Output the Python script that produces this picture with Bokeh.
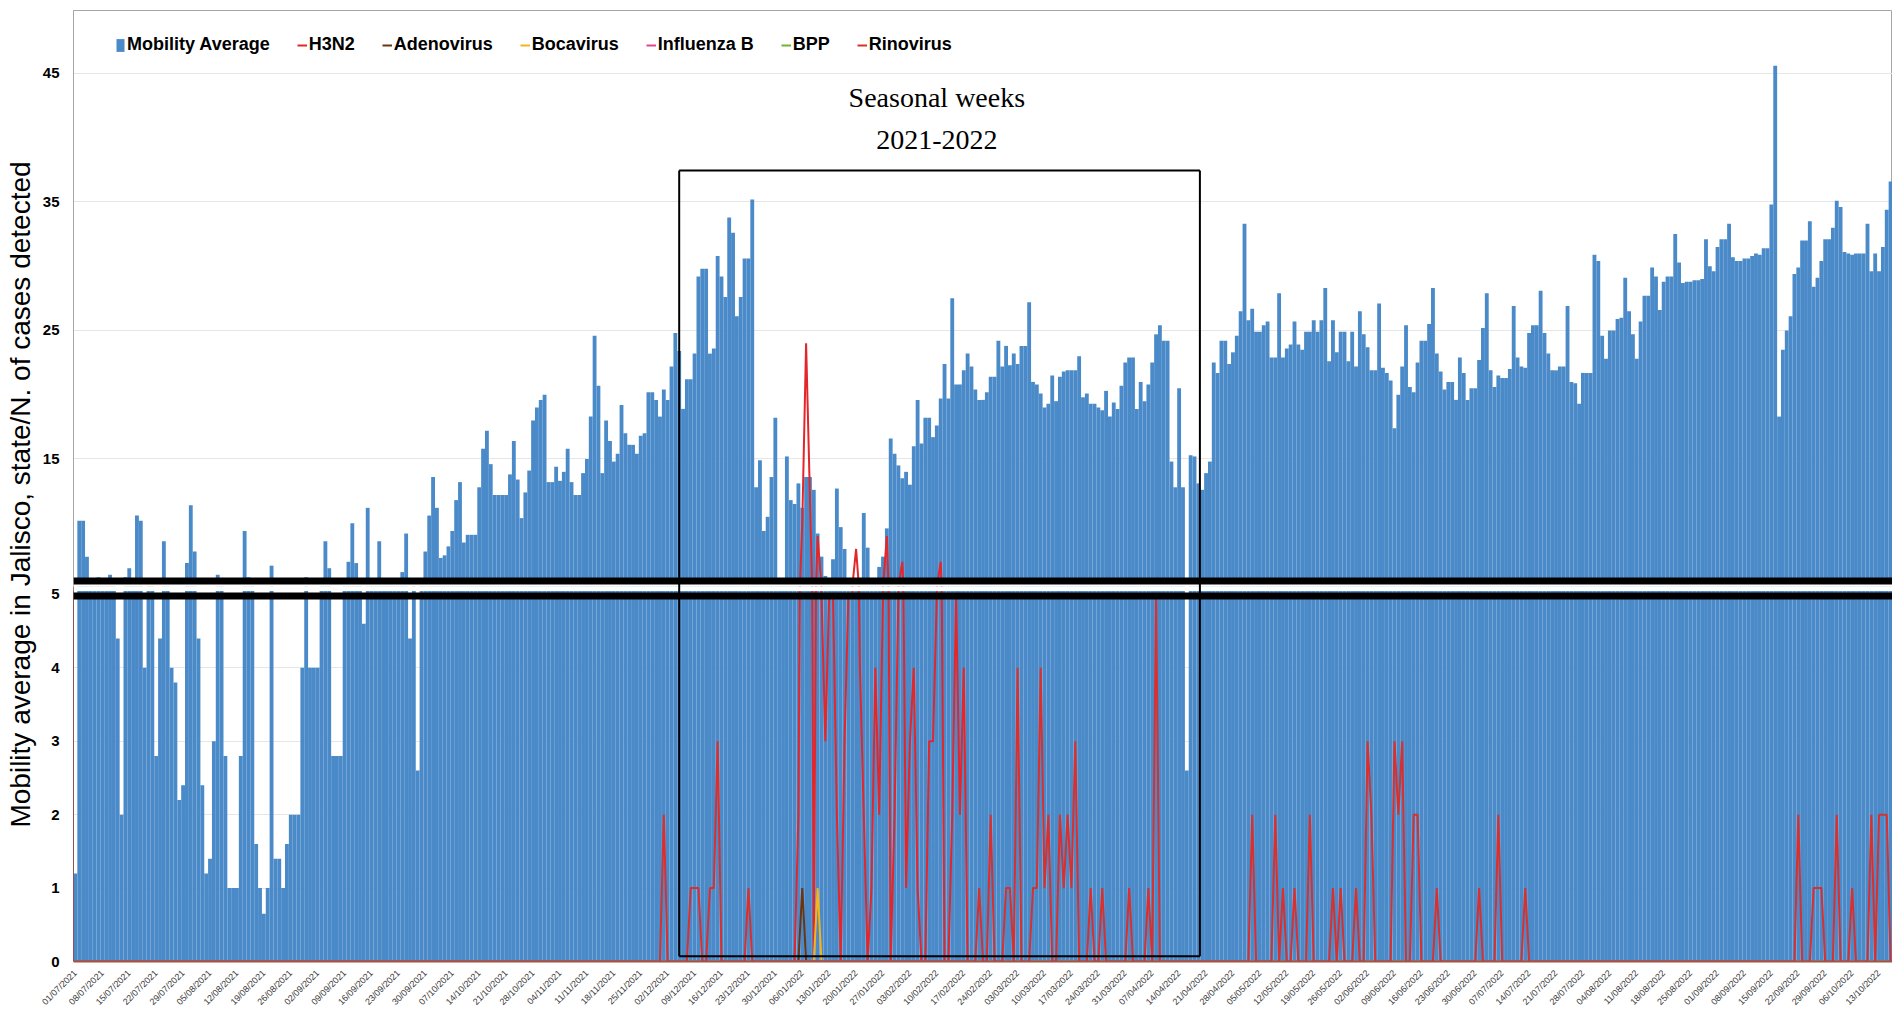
import math
from datetime import date, timedelta

from bokeh.plotting import figure
from bokeh.models import (ColumnDataSource, Range1d, FixedTicker, Span, BoxAnnotation,
                          Legend, LegendItem)
from bokeh.layouts import row, column
from bokeh.core.properties import value
from bokeh.embed import file_html
from bokeh.resources import INLINE

# ---------------- data ----------------
start_date = date(2021, 7, 1)

mobility_average = [
    1.2, 10.2, 10.2, 7.4, 5.2, 5.2, 5.8, 5.2, 5.2, 6.0,
    5.2, 4.4, 2.0, 5.8, 6.5, 5.2, 10.6, 10.2, 4.0, 5.2,
    5.2, 2.8, 4.4, 8.6, 5.2, 4.0, 3.8, 2.2, 2.4, 6.9,
    11.4, 7.8, 4.4, 2.4, 1.2, 1.4, 3.0, 6.0, 5.2, 2.8,
    1.0, 1.0, 1.0, 2.8, 9.4, 5.8, 5.2, 1.6, 1.0, 0.65,
    1.0, 6.7, 1.4, 1.4, 1.0, 1.6, 2.0, 2.0, 2.0, 4.0,
    5.8, 4.0, 4.0, 4.0, 5.2, 8.6, 6.5, 2.8, 2.8, 2.8,
    5.2, 7.0, 10.0, 6.9, 5.2, 4.6, 11.2, 5.2, 5.2, 8.6,
    5.2, 5.2, 5.2, 5.2, 5.2, 6.2, 9.2, 4.4, 5.2, 2.6,
    5.2, 7.8, 10.6, 13.6, 11.2, 7.3, 7.5, 8.2, 9.4, 11.8,
    13.2, 8.5, 9.1, 9.1, 9.1, 12.8, 15.8, 17.2, 14.6, 12.2,
    12.2, 12.2, 12.2, 13.8, 16.4, 13.4, 10.4, 12.4, 14.1, 18.0,
    19.0, 19.6, 20.0, 13.2, 13.2, 14.4, 13.3, 14.0, 15.8, 13.2,
    12.2, 12.2, 13.9, 15.0, 18.3, 24.6, 20.7, 13.9, 18.0, 16.4,
    14.8, 15.4, 19.2, 17.0, 16.1, 16.1, 15.4, 16.8, 17.0, 20.2,
    20.2, 19.6, 18.3, 20.4, 19.6, 22.2, 24.8, 23.4, 18.9, 21.2,
    21.2, 23.2, 29.2, 29.8, 29.8, 23.2, 23.6, 30.8, 29.2, 27.6,
    33.8, 32.6, 26.1, 27.6, 30.6, 30.6, 35.2, 12.8, 14.9, 9.4,
    10.5, 13.6, 18.2, 5.2, 5.2, 15.2, 11.8, 11.5, 13.1, 11.2,
    13.6, 13.6, 12.6, 9.2, 7.4, 5.9, 5.2, 7.2, 12.7, 9.7,
    8.0, 5.2, 5.2, 5.2, 5.2, 10.8, 8.1, 5.2, 5.2, 6.6,
    7.4, 9.6, 16.6, 15.4, 14.5, 13.5, 14.0, 13.0, 16.0, 19.6,
    16.2, 18.2, 18.2, 16.7, 17.6, 19.7, 22.4, 19.7, 27.5, 20.8,
    20.8, 21.9, 23.2, 22.2, 20.4, 19.6, 19.6, 20.2, 21.4, 21.4,
    24.2, 22.2, 23.8, 22.3, 23.2, 22.4, 23.8, 23.8, 27.2, 21.0,
    20.8, 20.1, 19.0, 19.3, 21.5, 19.5, 21.4, 21.8, 21.9, 21.9,
    21.9, 23.0, 19.8, 20.1, 19.3, 19.3, 19.0, 18.8, 20.3, 18.3,
    19.4, 18.9, 20.7, 22.5, 22.9, 22.9, 18.9, 21.0, 19.5, 20.8,
    22.5, 24.7, 25.4, 24.2, 24.2, 14.8, 12.8, 20.5, 12.8, 2.6,
    15.3, 15.2, 13.1, 12.6, 13.9, 14.8, 22.5, 21.7, 24.2, 24.2,
    22.4, 23.3, 24.6, 26.5, 33.3, 25.8, 26.7, 24.9, 24.9, 25.4,
    25.7, 22.9, 22.9, 27.9, 22.9, 23.6, 23.9, 25.7, 23.9, 23.5,
    24.9, 24.9, 25.8, 24.9, 25.8, 28.3, 22.6, 25.8, 23.3, 24.9,
    24.9, 22.6, 24.9, 22.2, 26.5, 24.7, 23.7, 21.9, 21.9, 27.1,
    22.1, 21.7, 21.1, 17.4, 20.0, 22.2, 25.4, 20.6, 20.2, 22.5,
    24.2, 24.2, 25.5, 28.3, 23.2, 21.8, 20.4, 21.0, 21.0, 19.6,
    22.9, 21.7, 19.6, 20.5, 20.5, 22.7, 25.2, 27.9, 21.9, 20.6,
    21.5, 21.3, 21.3, 22.0, 26.9, 22.9, 22.2, 22.1, 24.8, 25.4,
    25.4, 28.1, 24.8, 23.2, 21.9, 21.9, 22.2, 22.2, 26.9, 21.0,
    20.9, 19.3, 21.7, 21.7, 21.7, 30.9, 30.4, 24.6, 22.8, 25.0,
    25.0, 25.9, 26.0, 29.1, 26.5, 24.7, 22.8, 25.7, 27.7, 27.7,
    29.9, 29.2, 26.6, 28.8, 29.2, 29.2, 32.5, 30.3, 28.7, 28.8,
    28.8, 28.9, 28.9, 29.0, 32.1, 30.0, 29.6, 31.5, 32.1, 32.1,
    33.3, 30.7, 30.4, 30.4, 30.6, 30.6, 30.8, 31.0, 30.9, 31.4,
    31.4, 34.8, 45.6, 18.3, 23.5, 25.0, 26.1, 29.4, 29.9, 32.0,
    32.0, 33.5, 28.4, 29.1, 30.4, 32.1, 32.1, 33.0, 35.1, 34.6,
    31.1, 31.0, 30.9, 31.0, 31.0, 31.0, 33.3, 29.6, 31.0, 29.6,
    31.5, 34.4, 36.6,
]
n_days = len(mobility_average)
days = list(range(n_days))

# detected cases (day index -> number of cases; all other days are 0)
h3n2_days = [186, 187, 188, 189, 190, 191, 192, 193, 194, 195, 196, 197, 198, 199, 200,
             201, 202, 203, 204, 205, 206, 207, 208, 209, 210, 211, 212, 213, 214, 215,
             216, 217, 218, 219, 220, 221, 222, 223, 224, 225, 226, 227, 228, 229, 230,
             231, 232]
h3n2_cases = [0, 0, 2, 10, 24, 12, 0, 9, 5, 3, 5, 5, 2, 0, 3,
              5, 5, 8, 4, 2, 0, 1, 4, 2, 5, 9, 0, 2, 5, 7,
              1, 3, 4, 1, 0, 0, 3, 3, 5, 7, 0, 0, 2, 5, 2,
              4, 0]
rinovirus_days = [153, 160, 161, 162, 165, 166, 167, 175,
                  235, 238, 242, 243, 245, 249, 250, 251, 252, 253, 256, 257, 258, 259, 260,
                  264, 267, 274, 279, 281,
                  306, 312, 314, 317, 321, 327, 329, 333, 336, 337, 343, 344, 345, 348, 349,
                  354, 365, 370, 377, 448, 452, 453, 454, 458, 462, 467, 469, 470, 471]
rinovirus_cases = [2, 1, 1, 1, 1, 1, 3, 1,
                   1, 2, 1, 1, 4, 1, 1, 4, 1, 2, 2, 1, 2, 1, 3,
                   1, 1, 1, 1, 5,
                   2, 2, 1, 1, 2, 1, 1, 1, 3, 2, 3, 2, 3, 2, 2,
                   1, 1, 2, 1, 2, 1, 1, 1, 2, 1, 2, 2, 2, 2]
adenovirus_days = [189]
adenovirus_cases = [1]
bocavirus_days = [193]
bocavirus_cases = [1]
influenza_b_days = []
influenza_b_cases = []
bpp_days = []
bpp_cases = []

tick_days = list(range(0, n_days, 7))
tick_labels = [(start_date + timedelta(days=d)).strftime("%d/%m/%Y") for d in tick_days]
top_ticks = [15, 25, 35, 45]
bottom_ticks = [0, 1, 2, 3, 4, 5]

season_start_day = 157.0
season_end_day = 292.4


def daily(day_list, case_list):
    s = [0.0] * n_days
    for d, c in zip(day_list, case_list):
        if d < n_days:
            s[d] = c
    return s


series = [
    ("H3N2", daily(h3n2_days, h3n2_cases), "#e3262b"),
    ("Adenovirus", daily(adenovirus_days, adenovirus_cases), "#6b3412"),
    ("Bocavirus", daily(bocavirus_days, bocavirus_cases), "#f4b41a"),
    ("Influenza B", daily(influenza_b_days, influenza_b_cases), "#e0448e"),
    ("BPP", daily(bpp_days, bpp_cases), "#6db52f"),
    ("Rinovirus", daily(rinovirus_days, rinovirus_cases), "#d8302f"),
]

# ---------------- styling ----------------
BAR = "#4a8ac8"
FONT = "Liberation Sans"
TOP_BAR_BASE = 5.35

x_range = Range1d(-0.5, n_days - 0.5)

src = ColumnDataSource(dict(
    day=days,
    mob=mobility_average,
    mob_top=[v if v > TOP_BAR_BASE else float("nan") for v in mobility_average],
))


def style_y(p, ticks, color):
    p.yaxis.ticker = FixedTicker(ticks=ticks)
    p.yaxis.major_tick_line_color = None
    p.yaxis.minor_tick_line_color = None
    p.yaxis.axis_line_color = color
    p.yaxis.major_label_text_font = FONT
    p.yaxis.major_label_text_font_style = "bold"
    p.yaxis.major_label_text_font_size = "15px"
    p.yaxis.major_label_text_color = "black"
    p.yaxis.major_label_standoff = 8


# ---------------- top panel ----------------
top = figure(width=1853, height=586, x_range=x_range, y_range=Range1d(5.078, 49.9),
             output_backend="svg", toolbar_location=None, x_axis_location=None,
             min_border_left=28, min_border_right=0, min_border_top=10, min_border_bottom=0,
             outline_line_color="#a6a6a6", background_fill_color="white")
top.xgrid.visible = False
top.ygrid.ticker = FixedTicker(ticks=top_ticks)
top.ygrid.grid_line_color = "#e6e6e6"
style_y(top, top_ticks, "#a6a6a6")

bars_top = top.vbar(x="day", top="mob_top", bottom=TOP_BAR_BASE, width=1.0, source=src,
                    fill_color=BAR, line_color=None)
line_renderers = []
for name, vals, col in series:
    r = top.line(days, vals, line_color=col, line_width=2)
    line_renderers.append((name, r))

top.add_layout(BoxAnnotation(bottom=0, top=TOP_BAR_BASE - 0.02, fill_color="white",
                             fill_alpha=1.0, line_alpha=0))
top.add_layout(Span(location=5.51, dimension="width", line_color="black", line_width=7))

box_src_top = ColumnDataSource(dict(
    x0=[season_start_day, season_end_day, season_start_day],
    y0=[0, 0, 37.45],
    x1=[season_start_day, season_end_day, season_end_day],
    y1=[37.45, 37.45, 37.45],
))
top.segment(x0="x0", y0="y0", x1="x1", y1="y1", source=box_src_top, line_color="black",
            line_width=2, level="overlay")

top.text(x=[224, 224], y=[43.1, 39.8], text=["Seasonal weeks", "2021-2022"],
         text_font=value("Liberation Serif"), text_font_size="28px", text_color="black",
         text_align="center", text_baseline="middle")

items = [LegendItem(label="Mobility Average", renderers=[bars_top])]
items += [LegendItem(label=name, renderers=[r]) for name, r in line_renderers]
legend = Legend(items=items, location=(42, 531), orientation="horizontal",
                label_text_font=FONT, label_text_font_style="bold",
                label_text_font_size="18px", label_text_color="black",
                glyph_width=10, glyph_height=16, label_standoff=2, spacing=27,
                padding=0, margin=0, border_line_color=None, background_fill_alpha=0)
top.add_layout(legend)

# ---------------- bottom panel ----------------
bot = figure(width=1853, height=427, x_range=x_range, y_range=Range1d(0, 5.108),
             output_backend="svg", toolbar_location=None,
             min_border_left=28, min_border_right=0, min_border_top=0, min_border_bottom=50,
             outline_line_color=None, background_fill_color="white")
bot.xgrid.visible = False
bot.ygrid.ticker = FixedTicker(ticks=[1, 2, 3, 4])
bot.ygrid.grid_line_color = "#e6e6e6"
style_y(bot, bottom_ticks, "#8e5252")

bot.xaxis.ticker = FixedTicker(ticks=tick_days)
bot.xaxis.major_label_overrides = {d: lab for d, lab in zip(tick_days, tick_labels)}
bot.xaxis.major_label_orientation = math.pi / 4
bot.xaxis.major_label_text_font = FONT
bot.xaxis.major_label_text_font_size = "9px"
bot.xaxis.major_label_text_color = "#3a3a3a"
bot.xaxis.major_label_standoff = 4
bot.xaxis.major_tick_line_color = None
bot.xaxis.minor_tick_line_color = None
bot.xaxis.axis_line_color = "#9a5454"
bot.xaxis.axis_line_width = 2

bot.vbar(x="day", top="mob", bottom=0, width=1.0, source=src, fill_color=BAR, line_color=None)
for name, vals, col in series:
    bot.line(days, vals, line_color=col, line_width=2)

bot.add_layout(BoxAnnotation(bottom=5.047, top=10, fill_color="white", fill_alpha=1.0,
                             line_alpha=0))
bot.add_layout(Span(location=4.98, dimension="width", line_color="black", line_width=7))

box_src_bot = ColumnDataSource(dict(
    x0=[season_start_day, season_end_day, season_start_day],
    y0=[0.07, 0.07, 0.07],
    x1=[season_start_day, season_end_day, season_end_day],
    y1=[6, 6, 0.07],
))
bot.segment(x0="x0", y0="y0", x1="x1", y1="y1", source=box_src_bot, line_color="black",
            line_width=2, level="overlay")

# ---------------- y-axis title ----------------
ylab = figure(width=39, height=1013, x_range=Range1d(0, 39), y_range=Range1d(0, 1013),
              output_backend="svg", toolbar_location=None, x_axis_location=None,
              y_axis_location=None, min_border=0, outline_line_color=None)
ylab.grid.visible = False
ylab.text(x=[20], y=[519], text=["Mobility average in Jalisco, state/N. of cases detected"],
          angle=math.pi / 2, text_align="center", text_baseline="alphabetic",
          text_font=value(FONT), text_font_size="28px", text_color="black")

layout = row(ylab, column(top, bot, spacing=0), spacing=0)

with open("out.html", "w") as f:
    f.write(file_html(layout, INLINE))
